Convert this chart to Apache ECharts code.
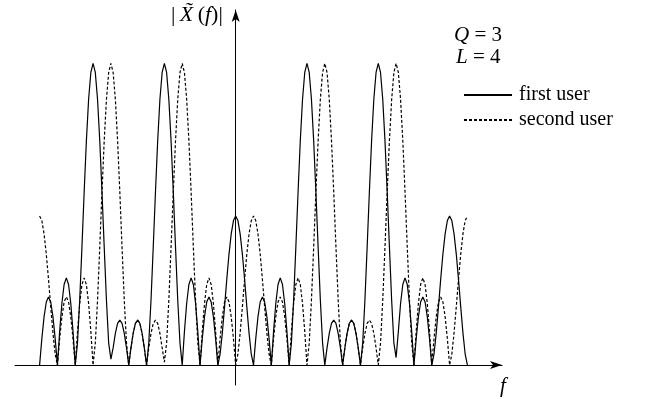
<!DOCTYPE html>
<html>
<head>
<meta charset="utf-8">
<script src="https://cdn.jsdelivr.net/npm/echarts@6/dist/echarts.min.js"></script>
<style>
  html, body { margin: 0; padding: 0; background: #fff; }
  #chart { width: 645px; height: 399px; }
</style>
</head>
<body>
<div id="chart"></div>
<script>
// sampling grid of f (one unit = one lobe width)
const freqStart = -11;
const freqStep = 0.125;

// |X(f)| of the first user, normalised so the tall lobes reach 1
const firstUser = [
  0, .087, .160, .209, .226, .209, .160, .087,            // -11 .. -10
  0, .111, .204, .267, .289, .267, .204, .111,            // -10 .. -9
  0, .073, .215, .391, .574, .744, .881, .970, 1, .970, .881, .744, .574, .391, .215, .073, // -9 .. -7
  .02, .057, .105, .138, .149, .138, .105, .057,          // -7 .. -6
  0, .057, .105, .138, .149, .138, .105, .057,            // -6 .. -5
  0, .073, .215, .391, .574, .744, .881, .970, 1, .970, .881, .744, .574, .391, .215, .073, // -5 .. -3
  0, .111, .204, .267, .289, .267, .204, .111,            // -3 .. -2
  0, .087, .160, .209, .226, .209, .160, .087,            // -2 .. -1
  0, .036, .106, .193, .284, .368, .435, .479, .494, .479, .435, .368, .284, .193, .106, .036, // -1 .. 1
  0, .087, .160, .209, .226, .209, .160, .087,            // 1 .. 2
  0, .111, .204, .267, .289, .267, .204, .111,            // 2 .. 3
  0, .073, .215, .391, .574, .744, .881, .970, 1, .970, .881, .744, .574, .391, .215, .073, // 3 .. 5
  0, .057, .105, .138, .149, .138, .105, .057,            // 5 .. 6
  0, .057, .105, .138, .149, .138, .105, .057,            // 6 .. 7
  0, .073, .215, .391, .574, .744, .881, .970, 1, .970, .881, .744, .574, .391, .215, .073, // 7 .. 9
  .025, .111, .204, .267, .289, .267, .204, .111,         // 9 .. 10
  0, .087, .160, .209, .226, .209, .160, .087,            // 10 .. 11
  0, .036, .106, .193, .284, .368, .435, .479, .494, .479, .435, .368, .284, .193, .106, .036, // 11 .. 13
  0
];

// |X(f)| of the second user
const secondUser = [
  .494, .479, .435, .368, .284, .193, .106, .036,         // -11 .. -10
  0, .087, .160, .209, .226, .209, .160, .087,            // -10 .. -9
  0, .111, .204, .267, .289, .267, .204, .111,            // -9 .. -8
  0, .073, .215, .391, .574, .744, .881, .970, 1, .970, .881, .744, .574, .391, .215, .073, // -8 .. -6
  0, .057, .105, .138, .149, .138, .105, .057,            // -6 .. -5
  0, .057, .105, .138, .149, .138, .105, .057,            // -5 .. -4
  .01, .073, .215, .391, .574, .744, .881, .970, 1, .970, .881, .744, .574, .391, .215, .073, // -4 .. -2
  0, .111, .204, .267, .289, .267, .204, .111,            // -2 .. -1
  0, .087, .160, .209, .226, .209, .160, .087,            // -1 .. 0
  0, .036, .106, .193, .284, .368, .435, .479, .494, .479, .435, .368, .284, .193, .106, .036, // 0 .. 2
  0, .087, .160, .209, .226, .209, .160, .087,            // 2 .. 3
  0, .111, .204, .267, .289, .267, .204, .111,            // 3 .. 4
  0, .073, .215, .391, .574, .744, .881, .970, 1, .970, .881, .744, .574, .391, .215, .073, // 4 .. 6
  0, .057, .105, .138, .149, .138, .105, .057,            // 6 .. 7
  0, .057, .105, .138, .149, .138, .105, .057,            // 7 .. 8
  0, .073, .215, .391, .574, .744, .881, .970, 1, .970, .881, .744, .574, .391, .215, .073, // 8 .. 10
  0, .111, .204, .267, .289, .267, .204, .111,            // 10 .. 11
  0, .087, .160, .209, .226, .209, .160, .087,            // 11 .. 12
  0, .036, .106, .193, .284, .368, .435, .479, .494       // 12 .. 13
];

const seriesNames = ["first user", "second user"];

function toPoints(values) {
  return values.map((v, i) => [freqStart + i * freqStep, v]);
}

const serif = "'Liberation Serif', 'DejaVu Serif', serif";

const options = {
  animation: false,
  grid: {
    left: 15,
    right: 143,
    top: 10,
    bottom: 14,
  },
  legend: {
    data: seriesNames,
    orient: "vertical",
    left: 458,
    top: 80,
    itemWidth: 48,
    itemHeight: 14,
    itemGap: 5,
    itemStyle: { opacity: 0 }, // hide the dot, keep the line sample
    textStyle: {
      fontFamily: serif,
      fontSize: 20,
      color: "#000",
      padding: [0, 0, 0, 2],
    },
  },
  xAxis: {
    type: "value",
    min: -12.38,
    max: 14.94,
    axisLine: {
      onZero: true,
      symbol: ["none", "arrow"],
      symbolSize: [6, 12],
      lineStyle: { color: "#000", width: 1 },
    },
    axisTick: { show: false },
    axisLabel: { show: false },
    splitLine: { show: false },
  },
  yAxis: {
    type: "value",
    min: -0.066,
    max: 1.177,
    axisLine: {
      onZero: true,
      symbol: ["none", "arrow"],
      symbolSize: [6, 12],
      lineStyle: { color: "#000", width: 1 },
    },
    axisTick: { show: false },
    axisLabel: { show: false },
    splitLine: { show: false },
  },
  graphic: [
    {
      type: "text",
      left: 171,
      top: 4,
      style: {
        text: "|\u2009{i|X\u0303}\u2009({i|f})|",
        font: "22px " + serif,
        fill: "#000",
        rich: { i: { fontStyle: "italic", fontFamily: serif, fontSize: 22 } },
      },
    },
    {
      type: "text",
      left: 500,
      top: 376,
      style: { text: "f", font: "italic 21px " + serif, fill: "#000" },
    },
    {
      type: "text",
      left: 454,
      top: 25,
      style: {
        text: "{i|Q} = 3",
        font: "21px " + serif,
        fill: "#000",
        rich: { i: { fontStyle: "italic", fontFamily: serif, fontSize: 21 } },
      },
    },
    {
      type: "text",
      left: 456,
      top: 47,
      style: {
        text: "{i|L} = 4",
        font: "21px " + serif,
        fill: "#000",
        rich: { i: { fontStyle: "italic", fontFamily: serif, fontSize: 21 } },
      },
    },
  ],
  series: [
    {
      name: seriesNames[0],
      type: "line",
      data: toPoints(firstUser),
      symbol: "none",
      lineStyle: { color: "#000", width: 1.2 },
      itemStyle: { color: "#000" },
      silent: true,
    },
    {
      name: seriesNames[1],
      type: "line",
      data: toPoints(secondUser),
      symbol: "none",
      lineStyle: { color: "#000", width: 1.2, type: [3, 2] },
      itemStyle: { color: "#000" },
      silent: true,
    },
  ],
};

const chart = echarts.init(document.getElementById("chart"));
chart.setOption(options);
</script>
</body>
</html>
